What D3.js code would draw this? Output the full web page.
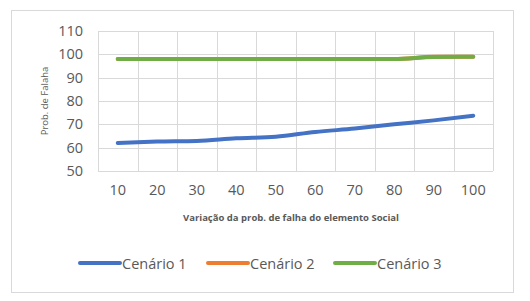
<!DOCTYPE html>
<html><head><meta charset="utf-8">
<script src="https://cdn.jsdelivr.net/npm/d3@7"></script>
<style>body{margin:0;background:#fff}svg{display:block}</style>
</head><body>
<script>
const categories = [10, 20, 30, 40, 50, 60, 70, 80, 90, 100];
const cenario1 = [62, 62.6, 62.9, 64, 64.7, 66.7, 68.2, 70, 71.7, 73.7];
const cenario2 = [98, 98, 98, 98, 98, 98, 98, 98, 98.95, 99];
const cenario3 = [98, 98, 98, 98, 98, 98, 98, 98, 98.85, 99];
const yTicks = [50, 60, 70, 80, 90, 100, 110];
const seriesNames = ["Cenário 1", "Cenário 2", "Cenário 3"];
const colors = ["#4472C4", "#ED7D31", "#70AD47"];
const yTitle = "Prob. de Falaha";
const xTitle = "Variação da prob. de falha do elemento Social";

const W = 530, H = 301;
const svg = d3.select("body").append("svg").attr("width", W).attr("height", H);
const font = "'Open Sans', sans-serif";
const textCol = "#595959";

svg.append("rect").attr("x", 11.5).attr("y", 10.5).attr("width", 502).attr("height", 282)
  .attr("fill", "#fff").attr("stroke", "#d9d9d9");

const L = 98, R = 493, T = 31, B = 171;
const x = d3.scaleBand().domain(categories).range([L, R]).padding(0);
const y = d3.scaleLinear().domain([50, 110]).range([B, T]);

const g = svg.append("g");
g.selectAll(".hg").data(yTicks).join("line")
  .attr("x1", L).attr("x2", R)
  .attr("y1", d => Math.round(y(d)) + 0.5).attr("y2", d => Math.round(y(d)) + 0.5)
  .attr("stroke", "#d9d9d9").attr("stroke-width", 1);
const bounds = categories.map(c => x(c)).concat([x(categories[categories.length - 1]) + x.bandwidth()]);
g.selectAll(".vg").data(bounds).join("line")
  .attr("x1", d => Math.round(d) + 0.5).attr("x2", d => Math.round(d) + 0.5)
  .attr("y1", T).attr("y2", B)
  .attr("stroke", "#d9d9d9").attr("stroke-width", 1);

const yAxis = d3.axisLeft(y).tickValues(yTicks).tickSize(0).tickPadding(0);
const ya = svg.append("g").attr("transform", `translate(83,0)`).call(yAxis);
ya.select(".domain").remove();
ya.selectAll("text").attr("font-family", font).attr("font-size", "14.5px").attr("fill", textCol);

const xAxis = d3.axisBottom(x).tickSize(0).tickPadding(0);
const xa = svg.append("g").attr("transform", `translate(0,185)`).call(xAxis);
xa.select(".domain").remove();
xa.selectAll("text").attr("font-family", font).attr("font-size", "14.5px").attr("fill", textCol);

svg.append("text").attr("x", 291).attr("y", 217).attr("text-anchor", "middle")
  .attr("dominant-baseline", "central")
  .attr("font-family", font).attr("font-size", "9.5px").attr("font-weight", "bold")
  .attr("fill", textCol).text(xTitle);
svg.append("text").attr("transform", "translate(44,101) rotate(-90)").attr("text-anchor", "middle")
  .attr("dominant-baseline", "central")
  .attr("font-family", font).attr("font-size", "9.5px")
  .attr("fill", textCol).text(yTitle);

const data = [cenario1, cenario2, cenario3];
const line = d3.line().x((d, i) => x(categories[i]) + x.bandwidth() / 2).y(d => y(d))
  .curve(d3.curveMonotoneX);
svg.selectAll(".series").data(data).join("path")
  .attr("d", line).attr("fill", "none")
  .attr("stroke", (d, i) => colors[i]).attr("stroke-width", 4)
  .attr("stroke-linecap", "round").attr("stroke-linejoin", "round");

const legX = [80, 208, 335];
const lg = svg.selectAll(".leg").data(seriesNames).join("g")
  .attr("transform", (d, i) => `translate(${legX[i]},263)`);
lg.append("line").attr("x1", 0).attr("x2", 40).attr("y1", 0).attr("y2", 0)
  .attr("stroke", (d, i) => colors[i]).attr("stroke-width", 4).attr("stroke-linecap", "round");
lg.append("text").attr("x", 42).attr("y", 0).attr("dominant-baseline", "central")
  .attr("font-family", font).attr("font-size", "14.5px").attr("fill", textCol).text(d => d);
</script>
</body></html>
